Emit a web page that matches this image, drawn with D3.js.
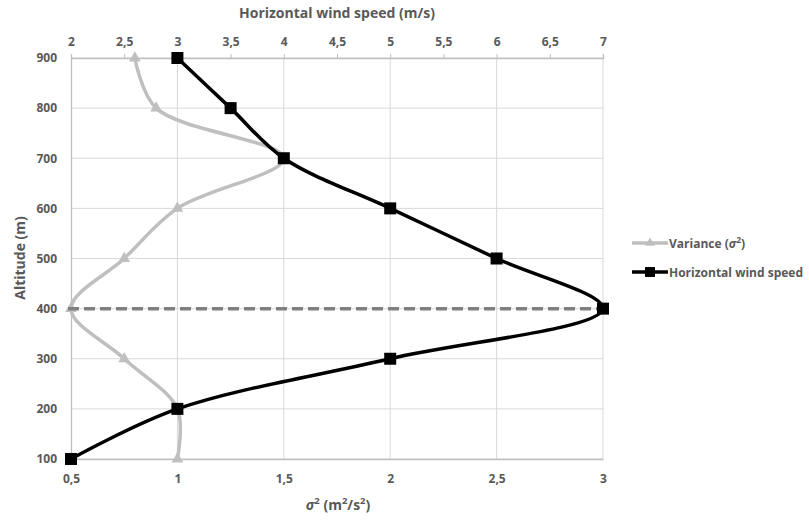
<!DOCTYPE html>
<html><head><meta charset="utf-8">
<script src="https://cdn.jsdelivr.net/npm/d3@7"></script>
<style>
body{margin:0;background:#fff;}
text{font-family:"Open Sans",sans-serif;font-weight:bold;fill:#595959;}
</style></head>
<body><svg id="c" width="809" height="520"></svg>
<script>
const altitudes = [100,200,300,400,500,600,700,800,900];
const varianceValues = [1.0,1.0,0.75,0.5,0.75,1.0,1.5,0.9,0.8];
const windValues = [2,3,5,7,6,5,4,3.5,3];
const bottomTicks = [0.5,1,1.5,2,2.5,3];
const topTicks = [2,2.5,3,3.5,4,4.5,5,5.5,6,6.5,7];
const yTicks = [100,200,300,400,500,600,700,800,900];
const seriesNames = ["Variance (σ²)","Horizontal wind speed"];
const dashedAltitude = 400;

const svg = d3.select("#c");
const L=71,R=603,T=58,B=459;
const xB = d3.scaleLinear().domain([0.5,3]).range([L,R]);
const xT = d3.scaleLinear().domain([2,7]).range([L,R]);
const y = d3.scaleLinear().domain([100,900]).range([B,T]);
const fmt = v => String(v).replace(".",",");

// gridlines
const g = svg.append("g");
g.selectAll(".hg").data(yTicks).join("line")
 .attr("x1",L).attr("x2",R).attr("y1",d=>y(d)).attr("y2",d=>y(d))
 .attr("stroke","#d9d9d9").attr("stroke-width",1);
g.selectAll(".vg").data(bottomTicks.slice(1)).join("line")
 .attr("x1",d=>xB(d)).attr("x2",d=>xB(d)).attr("y1",T).attr("y2",B)
 .attr("stroke","#d9d9d9").attr("stroke-width",1);

// axes
const topAxis = svg.append("g").attr("transform",`translate(0,${T})`)
 .call(d3.axisTop(xT).tickValues(topTicks).tickFormat(fmt).tickSize(4).tickPadding(8));
const botAxis = svg.append("g").attr("transform",`translate(0,${B})`)
 .call(d3.axisBottom(xB).tickValues(bottomTicks).tickFormat(fmt).tickSize(0).tickPadding(15));
const leftAxis = svg.append("g").attr("transform",`translate(${L},0)`)
 .call(d3.axisLeft(y).tickValues(yTicks).tickSize(0).tickPadding(14));
[topAxis,botAxis,leftAxis].forEach(a=>{
  a.select(".domain").attr("stroke","#bfbfbf").attr("stroke-width",1.3);
  a.selectAll(".tick line").attr("stroke","#bfbfbf");
  a.selectAll("text").attr("font-size",12).attr("fill","#595959").style("font-family","'Open Sans', sans-serif").style("font-weight","bold");
});

// titles
svg.append("text").attr("x",337).attr("y",18).attr("text-anchor","middle").attr("font-size",14).text("Horizontal wind speed (m/s)");
const bt = svg.append("text").attr("x",338).attr("y",510).attr("text-anchor","middle").attr("font-size",14);
bt.append("tspan").attr("font-style","italic").text("σ");
bt.append("tspan").attr("font-size",9.5).attr("dy",-6).text("2");
bt.append("tspan").attr("dy",6).text(" (m");
bt.append("tspan").attr("font-size",9.5).attr("dy",-6).text("2");
bt.append("tspan").attr("dy",6).text("/s");
bt.append("tspan").attr("font-size",9.5).attr("dy",-6).text("2");
bt.append("tspan").attr("dy",6).text(")");
svg.append("text").attr("transform","translate(25,258) rotate(-90)").attr("text-anchor","middle").attr("font-size",14).text("Altitude (m)");

// series
const curve = d3.curveCatmullRom.alpha(0.5);
const varData = altitudes.map((a,i)=>({a,v:varianceValues[i]}));
const windData = altitudes.map((a,i)=>({a,v:windValues[i]}));
svg.append("path").datum(varData)
 .attr("d",d3.line().x(d=>xB(d.v)).y(d=>y(d.a)).curve(curve))
 .attr("fill","none").attr("stroke","#bfbfbf").attr("stroke-width",3.5);
const tri = d3.symbol().type(d3.symbolTriangle).size(60);
svg.selectAll(".tri").data(varData).join("path")
 .attr("d",tri).attr("transform",d=>`translate(${xB(d.v)},${y(d.a)})`).attr("fill","#bfbfbf");

// dashed line at 400
svg.append("line").attr("x1",L-3).attr("x2",R).attr("y1",y(dashedAltitude)).attr("y2",y(dashedAltitude))
 .attr("stroke","#808080").attr("stroke-width",3.5).attr("stroke-dasharray","11,5");

svg.append("path").datum(windData)
 .attr("d",d3.line().x(d=>xT(d.v)).y(d=>y(d.a)).curve(curve))
 .attr("fill","none").attr("stroke","#000").attr("stroke-width",3.5);
svg.selectAll(".sq").data(windData).join("rect")
 .attr("x",d=>xT(d.v)-6).attr("y",d=>y(d.a)-6).attr("width",12).attr("height",12).attr("fill","#000");

// legend
const leg = [{c:"#bfbfbf",t:"tri",y:243},{c:"#000",t:"sq",y:272}];
leg.forEach((l,i)=>{
  svg.append("line").attr("x1",632).attr("x2",668).attr("y1",l.y).attr("y2",l.y).attr("stroke",l.c).attr("stroke-width",3.5);
  if(l.t==="tri") svg.append("path").attr("d",d3.symbol().type(d3.symbolTriangle).size(40)).attr("transform",`translate(650,${l.y})`).attr("fill",l.c);
  else svg.append("rect").attr("x",645).attr("y",l.y-5).attr("width",10).attr("height",10).attr("fill",l.c);
  const t = svg.append("text").attr("x",669).attr("y",l.y+4.5).attr("font-size",12);
  if(i===0){
    t.append("tspan").text("Variance (");
    t.append("tspan").attr("font-style","italic").text("σ");
    t.append("tspan").attr("font-size",8.5).attr("dy",-5).text("2");
    t.append("tspan").attr("dy",5).text(")");
  } else t.text(seriesNames[1]);
});
</script></body></html>
